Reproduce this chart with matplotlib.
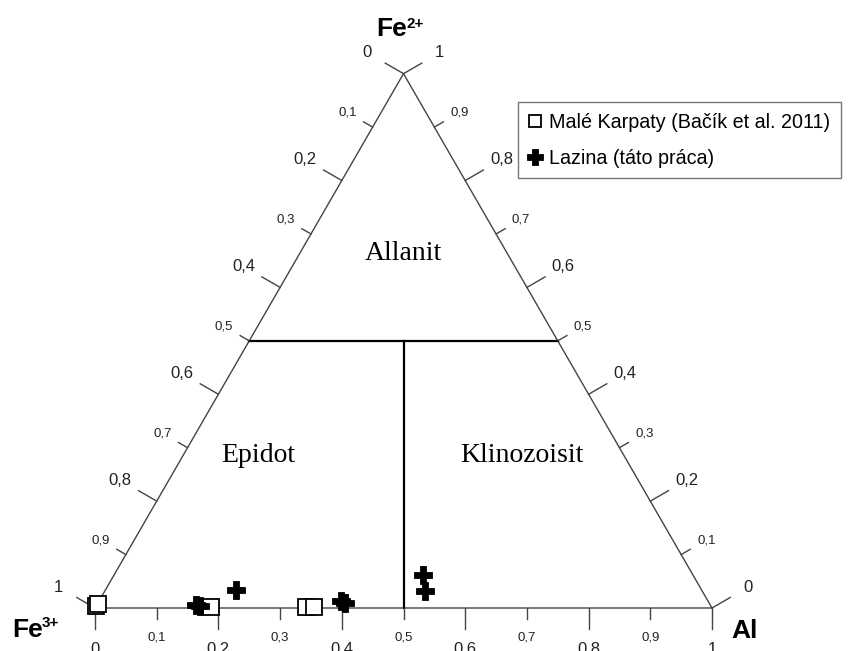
"""Ternary Fe3+ - Fe2+ - Al diagram for epidote-group minerals."""

import numpy as np
import matplotlib.pyplot as plt

plt.rcParams["font.family"] = ["Liberation Sans", "DejaVu Sans"]

# ternary compositions (fractions); Fe3+ = 1 - Al - Fe2+
karpaty_al = [0.000, 0.002, 0.187, 0.341, 0.354]
karpaty_fe2 = [0.004, 0.007, 0.002, 0.002, 0.002]

lazina_al = [0.161, 0.168, 0.212, 0.392, 0.400, 0.501, 0.519]
lazina_fe2 = [0.006, 0.003, 0.033, 0.013, 0.009, 0.061, 0.032]

tick_values = [0.1 * i for i in range(11)]
region_names = ["Allanit", "Epidot", "Klinozoisit"]
legend_labels = ["Malé Karpaty (Bačík et al. 2011)", "Lazina (táto práca)"]

H = np.sqrt(3) / 2
PX = 617.0  # pixels per unit side


def to_xy(al, fe2):
    al = np.asarray(al)
    fe2 = np.asarray(fe2)
    return al + fe2 / 2, fe2 * H


def fmt(v):
    s = f"{v:.1f}".replace(".", ",")
    return {"0,0": "0", "1,0": "1"}.get(s, s)


fig = plt.figure(figsize=(8.51, 6.51), dpi=100)
ax = fig.add_axes([0, 0, 1, 1])
ax.set_xlim(-95 / PX, 756 / PX)
ax.set_ylim(-43 / PX, 608 / PX)
ax.axis("off")

fe3_v = np.array([0.0, 0.0])
al_v = np.array([1.0, 0.0])
fe2_v = np.array([0.5, H])

edge_c = "#444444"
ax.plot([fe3_v[0], al_v[0], fe2_v[0], fe3_v[0]],
        [fe3_v[1], al_v[1], fe2_v[1], fe3_v[1]],
        color=edge_c, lw=1.0, solid_joinstyle="miter")

# field boundaries
ax.plot([0.25, 0.75], [H / 2, H / 2], color="black", lw=1.6)
ax.plot([0.5, 0.5], [0, H / 2], color="black", lw=1.6)

# axes: (start, end, outward normal)
axes_def = [
    (fe2_v, fe3_v, np.array([-np.sqrt(3) / 2, 0.5])),   # left: Fe3+ 0 at top
    (al_v, fe2_v, np.array([np.sqrt(3) / 2, 0.5])),     # right: Fe2+ 0 at Al
    (fe3_v, al_v, np.array([0.0, -1.0])),               # bottom: Al
]
for start, end, nrm in axes_def:
    for i, v in enumerate(tick_values):
        p = start + v * (end - start)
        major = i % 2 == 0
        ln = (21 if major else 10.5) / PX
        dist = (42 if major else 29) / PX
        ax.plot([p[0], p[0] + nrm[0] * ln], [p[1], p[1] + nrm[1] * ln],
                color=edge_c, lw=1.0)
        ax.text(p[0] + nrm[0] * dist, p[1] + nrm[1] * dist, fmt(v),
                fontsize=12 if major else 9.5, ha="center", va="center",
                color="#222222")

# region names
serif = ["Liberation Serif", "DejaVu Serif"]
ax.text(0.5, (608 - 253) / PX, region_names[0], family=serif, fontsize=20,
        ha="center", va="center")
ax.text((258 - 95) / PX, (608 - 455) / PX, region_names[1], family=serif,
        fontsize=20, ha="center", va="center")
ax.text((522 - 95) / PX, (608 - 455) / PX, region_names[2], family=serif,
        fontsize=20, ha="center", va="center")

# vertex labels
def vlabel(xy, main, sup, dx, dy, sdy):
    ax.annotate(main, xy, xytext=(dx, dy), textcoords="offset pixels",
                fontsize=19, fontweight="bold", ha="right", va="baseline")
    if sup:
        ax.annotate(sup, xy, xytext=(dx - 1, sdy), textcoords="offset pixels",
                    fontsize=11, fontweight="bold", ha="left", va="baseline")


vlabel(fe2_v, "Fe", "2+", 4, 38, 46)
vlabel(fe3_v, "Fe", "3+", -52, -29, -19)
ax.annotate("Al", al_v, xytext=(19, -30), textcoords="offset pixels",
            fontsize=19, fontweight="bold", ha="left", va="baseline")

# data
kx, ky = to_xy(karpaty_al, karpaty_fe2)
lx, ly = to_xy(lazina_al, lazina_fe2)
ax.plot(kx, ky, ls="none", marker="s", ms=11, mfc="white", mec="black",
        mew=1.3, label=legend_labels[0], zorder=3)
ax.plot(lx, ly, ls="none", marker="P", ms=13.5, mfc="black", mec="black",
        mew=0.6, label=legend_labels[1], zorder=4)

leg = ax.legend(loc="upper left", bbox_to_anchor=(518 / 851, 1 - 102 / 651),
                bbox_transform=fig.transFigure, borderaxespad=0,
                fancybox=False, frameon=True, fontsize=14.2, markerscale=0.85,
                handlelength=0.65, handletextpad=0.35, labelspacing=0.85,
                borderpad=0.55)
leg.get_frame().set_edgecolor("#555555")
leg.get_frame().set_linewidth(1.0)

fig.savefig("out.png", dpi=100)
